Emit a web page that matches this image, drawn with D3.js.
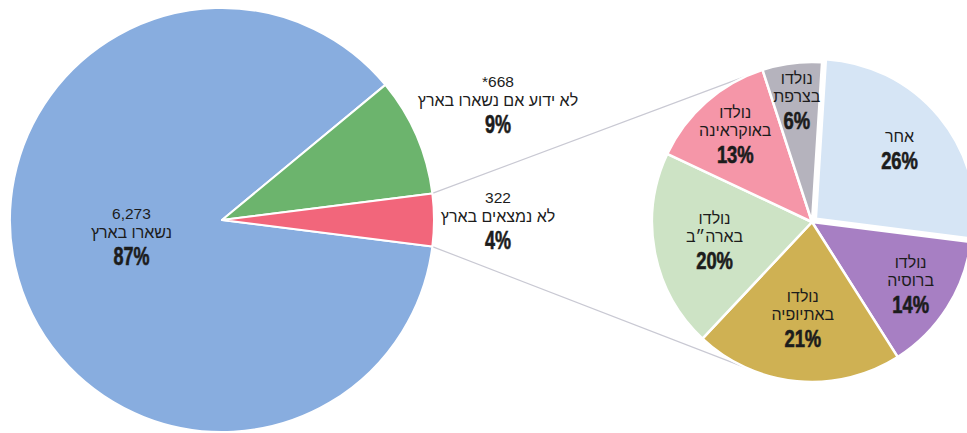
<!DOCTYPE html>
<html>
<head>
<meta charset="utf-8">
<script src="https://cdn.jsdelivr.net/npm/d3@7"></script>
<style>
  body { margin: 0; background: #fff; }
  text { font-family: "Liberation Sans", "DejaVu Sans", sans-serif; fill: #1c1c1c; }
  .pct { font-weight: bold; stroke: #1c1c1c; stroke-width: 0.6px; }
</style>
</head>
<body>
<div id="chart-area"></div>
<script>
// main pie: all cases
var mainNames = ["נשארו בארץ", "לא ידוע אם נשארו בארץ", "לא נמצאים בארץ"];
var mainCounts = ["6,273", "668*", "322"];
var mainShares = [87, 9, 4];
var mainColors = ["#88addf", "#6cb46d", "#f2667b"];

// second pie: breakdown of "not in the country"
var bornNames = ["אחר", "נולדו\nברוסיה", "נולדו\nבאתיופיה", "נולדו\nבארה״ב", "נולדו\nבאוקראינה", "נולדו\nבצרפת"];
var bornShares = [26, 14, 21, 20, 13, 6];
var bornColors = ["#d6e5f5", "#a77fc3", "#cfb153", "#cde3c5", "#f596a8", "#b5b3bd"];
// label distance from centre, as a share of the radius
var bornLabelR = [0.71, 0.73, 0.61, 0.62, 0.725, 0.76];

var width = 967, height = 433;
var main = {cx: 222, cy: 220, r: 212};
var born = {cx: 812, cy: 222, r: 160};

var svg = d3.select("#chart-area").append("svg")
    .attr("width", width).attr("height", height);

var deg = Math.PI / 180;
function polar(c, r, a) { return [c.cx + r * Math.sin(a), c.cy - r * Math.cos(a)]; }

// main pie: small "not in country" slice centred on 3 o'clock
var redShare = mainShares[2];
var mainStart = Math.PI / 2 + redShare / 100 * Math.PI;
var mainPie = d3.pie().sort(null).value(function(d) { return d; })
    .startAngle(mainStart).endAngle(mainStart + 2 * Math.PI);
var mainArcs = mainPie(mainShares);
var mainArc = d3.arc().innerRadius(0).outerRadius(main.r);

var bornStart = 0.01 * 2 * Math.PI;
var bornPie = d3.pie().sort(null).value(function(d) { return d; })
    .startAngle(bornStart).endAngle(bornStart + 2 * Math.PI);
var bornArcs = bornPie(bornShares);
var bornArc = d3.arc().innerRadius(0).outerRadius(born.r);

// connector lines from the red slice to the second pie
var red = mainArcs[2];
var links = [
  [polar(main, main.r, red.startAngle), polar(born, born.r, (270 + 66) * deg)],
  [polar(main, main.r, red.endAngle), polar(born, born.r, (270 - 66) * deg)]
];
svg.selectAll("line.link").data(links).enter().append("line")
    .attr("class", "link")
    .attr("x1", function(d) { return d[0][0]; }).attr("y1", function(d) { return d[0][1]; })
    .attr("x2", function(d) { return d[1][0]; }).attr("y2", function(d) { return d[1][1]; })
    .attr("stroke", "#c9c9d3").attr("stroke-width", 1.2);

var gMain = svg.append("g").attr("transform", "translate(" + main.cx + "," + main.cy + ")");
gMain.selectAll("path").data(mainArcs).enter().append("path")
    .attr("d", mainArc)
    .attr("fill", function(d, i) { return mainColors[i]; })
    .attr("stroke", "#fff").attr("stroke-width", 2).attr("stroke-linejoin", "round");

var gBorn = svg.append("g").attr("transform", "translate(" + born.cx + "," + born.cy + ")");
gBorn.selectAll("path").data(bornArcs).enter().append("path")
    .attr("d", bornArc)
    .attr("transform", function(d, i) {
        if (i !== 0) return null;
        var m = (d.startAngle + d.endAngle) / 2;
        return "translate(" + (5 * Math.sin(m)) + "," + (-5 * Math.cos(m)) + ")";
    })
    .attr("fill", function(d, i) { return bornColors[i]; })
    .attr("stroke", "#fff").attr("stroke-width", 2.5).attr("stroke-linejoin", "round");

// label block: text lines then a bold condensed percentage, centred on (x, y)
function labelBlock(x, y, lines, pct, gap, pctSize, squeeze) {
    var y0 = y - ((lines.length - 1) * gap + 16) / 2;
    var g = svg.append("g").attr("text-anchor", "middle");
    lines.forEach(function(t, i) {
        var hebrew = /[\u0590-\u05ff]/.test(t);
        g.append("text").attr("x", x).attr("y", y0 + i * gap)
            .attr("direction", "rtl")
            .attr("font-size", hebrew ? "16px" : "15.5px").text(t);
    });
    g.append("text").attr("class", "pct")
        .attr("font-size", pctSize + "px")
        .attr("transform", "translate(" + x + "," + (y0 + (lines.length - 1) * gap + 27) + ") scale(" + squeeze + ",1)")
        .text(pct + "%");
}

mainArcs.forEach(function(d, i) {
    var m = (d.startAngle + d.endAngle) / 2;
    var x, y;
    if (i === 0) {
        var c = d3.arc().innerRadius(0).outerRadius(main.r * 0.86).centroid(d);
        x = main.cx + c[0] - 3; y = main.cy + c[1] - 9;
    } else {
        x = main.cx + main.r + 64;
        y = main.cy - 290 * Math.cos(m);
    }
    labelBlock(x, y, [mainCounts[i], mainNames[i]], mainShares[i], 19, 25, 0.72);
});

bornArcs.forEach(function(d, i) {
    var c = d3.arc().innerRadius(0).outerRadius(born.r * bornLabelR[i] * 2).centroid(d);
    labelBlock(born.cx + c[0], born.cy + c[1], bornNames[i].split("\n"), bornShares[i], 18, 23, 0.8);
});
</script>
</body>
</html>
